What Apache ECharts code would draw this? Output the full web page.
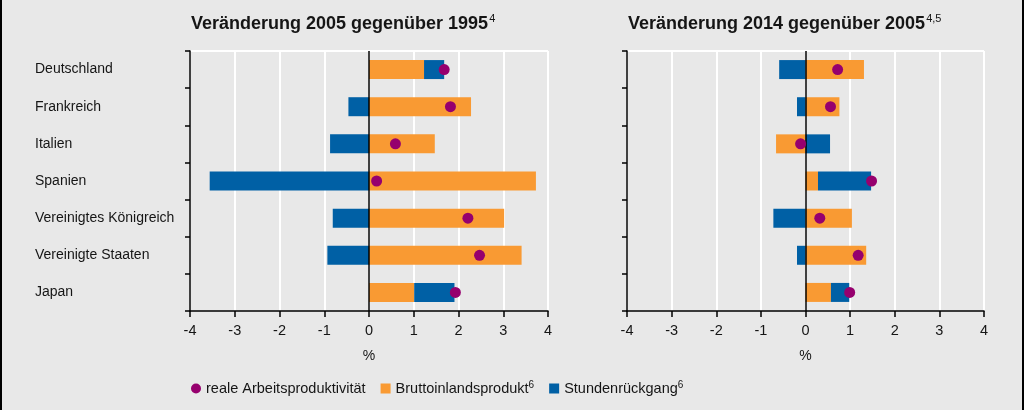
<!DOCTYPE html>
<html><head><meta charset="utf-8">
<script src="https://cdn.jsdelivr.net/npm/echarts@6/dist/echarts.min.js"></script>
<style>html,body{margin:0;padding:0;background:#e8e8e8}#c{width:1024px;height:410px}</style>
</head><body><div id="c"></div>
<script>
const countries = ['Deutschland','Frankreich','Italien','Spanien','Vereinigtes Königreich','Vereinigte Staaten','Japan'];
const xTicks = [-4,-3,-2,-1,0,1,2,3,4];
// Panel 1: 2005 vs 1995
const gdp1 = [1.23, 2.28, 1.47, 3.73, 3.02, 3.41, 1.01];
const hours1 = [0.45, -0.46, -0.87, -3.56, -0.81, -0.93, 0.90];
const prod1 = [1.68, 1.82, 0.59, 0.17, 2.21, 2.47, 1.93];
// Panel 2: 2014 vs 2005
const gdp2 = [1.31, 0.76, -0.66, 0.28, 1.04, 1.36, 0.57];
const hours2 = [-0.59, -0.19, 0.55, 1.19, -0.72, -0.19, 0.41];
const prod2 = [0.72, 0.56, -0.11, 1.48, 0.32, 1.18, 0.99];
const titles = ['Veränderung 2005 gegenüber 1995', 'Veränderung 2014 gegenüber 2005'];
const titleSups = ['4', '4,5'];
const names = ['reale Arbeitsproduktivität', 'Bruttoinlandsprodukt', 'Stundenrückgang'];
const nameSups = ['', '6', '6'];

const ORANGE = '#F99A33', BLUE = '#0060A5', PURPLE = '#96006E', TXT = '#151515';
const FONT = 'Liberation Sans, Arial, sans-serif';

const chart = echarts.init(document.getElementById('c'), null, {renderer:'canvas'});
const grids = [{left:190, right:476, top:51, bottom:99}, {left:627, right:40, top:51, bottom:99}];

function xAxis(i){
  return {gridIndex:i, type:'value', min:xTicks[0], max:xTicks[xTicks.length-1], interval:1,
    name:'%', nameLocation:'middle', nameGap:38,
    nameTextStyle:{color:TXT, fontSize:14, fontFamily:FONT},
    axisLine:{show:true, onZero:false, lineStyle:{color:'#000', width:1.5}},
    axisTick:{show:true, length:6, lineStyle:{color:'#000', width:1.5}},
    axisLabel:{color:TXT, fontSize:14.5, fontFamily:FONT, margin:12},
    splitLine:{show:true, lineStyle:{color:'#ffffff', width:2}}};
}
function yAxis(i){
  return {gridIndex:i, type:'category', data:countries, inverse:true,
    axisLine:{show:true, onZero:false, lineStyle:{color:'#000', width:1.5}},
    axisTick:{show:true, length:5, lineStyle:{color:'#000', width:1.5}},
    axisLabel:{show:i===0, align:'left', margin:155, color:TXT, fontSize:14, fontFamily:FONT},
    splitLine:{show:false}};
}
function series(i, gdp, hours, prod){
  return [
    {name:names[1], type:'bar', xAxisIndex:i, yAxisIndex:i, stack:'s'+i, data:gdp, barWidth:19,
     itemStyle:{color:ORANGE},
     markLine:{silent:true, symbol:'none', label:{show:false}, lineStyle:{color:'#000', width:1.5, type:'solid'}, data:[{xAxis:0}]}},
    {name:names[2], type:'bar', xAxisIndex:i, yAxisIndex:i, stack:'s'+i, data:hours, barWidth:19,
     itemStyle:{color:BLUE}},
    {name:names[0], type:'scatter', xAxisIndex:i, yAxisIndex:i, symbolSize:11, z:5,
     data:prod.map((v,k)=>[v, countries[k]]), itemStyle:{color:PURPLE, opacity:1}}
  ];
}

chart.setOption({
  backgroundColor:'#e8e8e8',
  animation:false,
  title: titles.map((t,i)=>({
    text:'{t|'+t+'}{s|'+titleSups[i]+'}', left: i===0?186:623, top:8,
    textStyle:{rich:{
      t:{fontSize:18, fontWeight:'bold', color:TXT, fontFamily:FONT, lineHeight:22},
      s:{fontSize:11, fontWeight:'normal', color:TXT, fontFamily:FONT, verticalAlign:'top', lineHeight:12, padding:[0,0,0,1]}
    }}
  })),
  legend:{left:186, top:375, itemWidth:10, itemHeight:10, itemGap:15,
    data:[{name:names[0], icon:'circle'}, {name:names[1], icon:'rect'}, {name:names[2], icon:'rect'}],
    formatter: n => { const k = names.indexOf(n); return '{t|'+n+'}' + (nameSups[k] ? '{s|'+nameSups[k]+'}' : ''); },
    textStyle:{color:TXT, fontSize:14.5, fontFamily:FONT, rich:{
      t:{fontSize:14.5, color:TXT, fontFamily:FONT, lineHeight:17},
      s:{fontSize:10, color:TXT, fontFamily:FONT, verticalAlign:'top', lineHeight:10}
    }}},
  grid: grids,
  xAxis:[xAxis(0), xAxis(1)],
  yAxis:[yAxis(0), yAxis(1)],
  series:[...series(0, gdp1, hours1, prod1), ...series(1, gdp2, hours2, prod2)],
  graphic:[
    {type:'rect', left:0, top:0, shape:{width:2, height:410}, style:{fill:'#000'}, silent:true},
    {type:'rect', left:1022, top:0, shape:{width:2, height:410}, style:{fill:'#000'}, silent:true},
    {type:'line', shape:{x1:190, y1:51, x2:548, y2:51}, style:{stroke:'#fff', lineWidth:2}, silent:true, z:-1},
    {type:'line', shape:{x1:627, y1:51, x2:984, y2:51}, style:{stroke:'#fff', lineWidth:2}, silent:true, z:-1}
  ]
});
</script></body></html>
